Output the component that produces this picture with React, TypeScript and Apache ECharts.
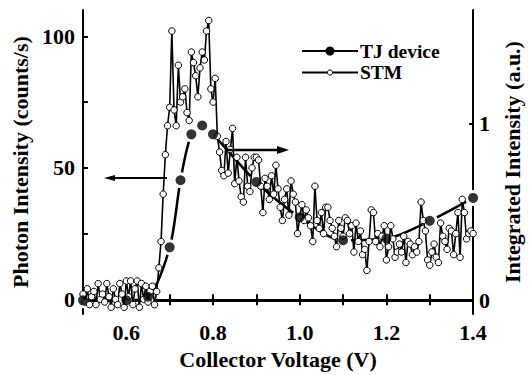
import React, { useEffect, useRef } from "react";
import * as echarts from "echarts";

// STM data: photon intensity (counts/s) sampled every 5 mV from 0.5 V
const stmStart = 0.5;
const stmStep = 0.005;
const stmCounts = [
  2, -1, 4, -2, 1, 3, -2, 6, 0, 2, -1, 6, 1, -3, 4, 0, -2, 6, 2, -3,
  7, 1, 7, -2, 4, 7, -3, 6, 0, 5, -1, 3, 5, -2, 3,
  12, 22, 40, 55, 66, 73, 102, 72, 66, 89, 75, 77, 80, 71, 68, 94, 90, 85, 77, 88,
  94, 91, 102, 106, 80, 75, 84, 62, 56, 49, 47, 60, 48, 57, 65, 44, 54, 45, 39, 37,
  54, 43, 41, 50, 54,
  54, 53, 43, 33, 46, 43, 38, 47, 40, 51,
  42, 35, 30, 38, 42, 32, 45, 40, 37, 25,
  31, 36, 30, 34, 31, 28, 22, 43, 30, 27,
  33, 25, 35, 35, 30, 27, 24, 20, 30, 27,
  24, 31, 30, 25, 28, 18, 29, 22, 26, 17,
  19, 11, 22, 34, 33, 22, 25, 20, 24, 28,
  15, 20, 28, 23, 16, 18, 21, 18, 24, 14,
  22, 21, 17, 20, 18, 22, 37, 30, 26, 15,
  13, 18, 21, 16, 14, 29, 24, 22, 19, 27,
  26, 17, 25, 33, 16, 38, 33, 23, 25, 26,
  25,
];

// TJ device: integrated intensity (a.u.)
const tjVoltage = [0.5, 0.6, 0.65, 0.7, 0.725, 0.75, 0.775, 0.8, 0.9, 1.0, 1.1, 1.2, 1.3, 1.4];
const tjIntensity = [0, 0, 0.02, 0.3, 0.68, 0.94, 0.99, 0.94, 0.67, 0.47, 0.34, 0.35, 0.45, 0.58];

// Axis ticks and labels
const xLabelValues = [0.6, 0.8, 1.0, 1.2, 1.4];
const xTickValues = [0.5, 0.6, 0.7, 0.8, 0.9, 1.0, 1.1, 1.2, 1.3, 1.4];
const leftLabelValues = [0, 50, 100];
const leftTickValues = [0, 25, 50, 75, 100];
const rightLabelValues = [0, 1];

const FONT = '"Liberation Serif", "Times New Roman", serif';
const FS = 22;
const LEGEND_FS = 19.5;

export default function App() {
  const ref = useRef<HTMLDivElement>(null);

  useEffect(() => {
    if (!ref.current) return;
    const chart = echarts.init(ref.current, null, { renderer: "svg" });

    const stmData = stmCounts.map((v, i) => [+(stmStart + i * stmStep).toFixed(3), v]);
    const tjData = tjVoltage.map((v, i) => [v, tjIntensity[i]]);

    const axisLine = { show: true, lineStyle: { color: "#000", width: 2 } };
    const labelStyle = {
      color: "#000",
      fontSize: FS,
      fontWeight: "bold" as const,
      fontFamily: FONT,
    };
    const nameStyle = {
      color: "#000",
      fontSize: FS,
      fontWeight: "bold" as const,
      fontFamily: FONT,
    };

    const option: any = {
      animation: false,
      backgroundColor: "#fff",
      grid: { left: 83, right: 46, top: 10, bottom: 55, containLabel: false },
      xAxis: [
        {
          type: "value",
          position: "bottom",
          min: 0.5,
          max: 1.4,
          axisLine,
          splitLine: { show: false },
          axisTick: {
            show: true,
            inside: true,
            length: 5,
            customValues: xTickValues,
            lineStyle: { color: "#000", width: 2 },
          },
          axisLabel: {
            ...labelStyle,
            margin: 7,
            customValues: xLabelValues,
            formatter: (v: number) => v.toFixed(1),
          },
          name: "Collector Voltage (V)",
          nameLocation: "middle",
          nameGap: 27,
          nameTextStyle: nameStyle,
        },
        {
          type: "value",
          position: "top",
          min: 0.5,
          max: 1.4,
          axisLine,
          splitLine: { show: false },
          axisTick: {
            show: true,
            inside: true,
            length: 5,
            customValues: xTickValues,
            lineStyle: { color: "#000", width: 2 },
          },
          axisLabel: { show: false },
        },
      ],
      yAxis: [
        {
          type: "value",
          position: "left",
          min: -5.6,
          max: 110,
          axisLine,
          splitLine: { show: false },
          axisTick: {
            show: true,
            inside: true,
            length: 5,
            customValues: leftTickValues,
            lineStyle: { color: "#000", width: 2 },
          },
          axisLabel: {
            ...labelStyle,
            margin: 8,
            customValues: leftLabelValues,
            formatter: (v: number) => String(v),
          },
          name: "Photon Intensity (counts/s)",
          nameLocation: "middle",
          nameRotate: 90,
          nameGap: 37,
          nameTextStyle: nameStyle,
        },
        {
          type: "value",
          position: "right",
          min: -0.078,
          max: 1.644,
          axisLine,
          splitLine: { show: false },
          axisTick: {
            show: true,
            inside: true,
            length: 4,
            customValues: rightLabelValues,
            lineStyle: { color: "#000", width: 2 },
          },
          axisLabel: {
            ...labelStyle,
            margin: 6,
            customValues: rightLabelValues,
            formatter: (v: number) => String(v),
          },
          name: "Integrated Intensity (a.u.)",
          nameLocation: "middle",
          nameRotate: 90,
          nameGap: 21,
          nameTextStyle: nameStyle,
        },
      ],
      series: [
        {
          name: "TJ line",
          type: "line",
          xAxisIndex: 0,
          yAxisIndex: 1,
          data: tjData,
          smooth: 0.3,
          symbol: "circle",
          symbolSize: 16,
          itemStyle: { color: "#fff" },
          lineStyle: { color: "#000", width: 2.5 },
          z: 1,
          silent: true,
        },
        {
          name: "STM",
          type: "line",
          xAxisIndex: 0,
          yAxisIndex: 0,
          data: stmData,
          symbol: "circle",
          symbolSize: 6.5,
          showAllSymbol: true,
          itemStyle: { color: "#fff", borderColor: "#000", borderWidth: 1 },
          lineStyle: { color: "#000", width: 1.6 },
          z: 2,
          silent: true,
        },
        {
          name: "TJ device",
          type: "scatter",
          xAxisIndex: 0,
          yAxisIndex: 1,
          data: tjData,
          symbol: "circle",
          symbolSize: 10,
          itemStyle: { color: "#000" },
          z: 3,
          silent: true,
        },
      ],
      graphic: [
        // left arrow (STM -> left axis)
        { type: "line", shape: { x1: 167, y1: 178, x2: 112, y2: 178 }, style: { stroke: "#000", lineWidth: 2 }, z: 10 },
        { type: "polygon", shape: { points: [[104, 178], [115, 175], [115, 181]] }, style: { fill: "#000" }, z: 10 },
        // right arrow (TJ -> right axis)
        { type: "line", shape: { x1: 227, y1: 150, x2: 280, y2: 150 }, style: { stroke: "#000", lineWidth: 2.5 }, z: 10 },
        { type: "polygon", shape: { points: [[289, 150], [277, 146], [277, 154]] }, style: { fill: "#000" }, z: 10 },
        // legend
        { type: "line", shape: { x1: 302, y1: 51, x2: 358, y2: 51 }, style: { stroke: "#000", lineWidth: 2 }, z: 10 },
        { type: "circle", shape: { cx: 330, cy: 51, r: 4.5 }, style: { fill: "#000" }, z: 11 },
        {
          type: "text",
          x: 360,
          y: 51,
          style: {
            text: "TJ device",
            fill: "#000",
            font: `bold ${LEGEND_FS}px ${FONT}`,
            verticalAlign: "middle",
            align: "left",
          },
          z: 10,
        },
        { type: "line", shape: { x1: 302, y1: 72.5, x2: 358, y2: 72.5 }, style: { stroke: "#000", lineWidth: 2 }, z: 10 },
        { type: "circle", shape: { cx: 330, cy: 72.5, r: 2.6 }, style: { fill: "#fff", stroke: "#000", lineWidth: 1 }, z: 11 },
        {
          type: "text",
          x: 360,
          y: 72.5,
          style: {
            text: "STM",
            fill: "#000",
            font: `bold ${LEGEND_FS}px ${FONT}`,
            verticalAlign: "middle",
            align: "left",
          },
          z: 10,
        },
      ],
    };

    chart.setOption(option);
    return () => chart.dispose();
  }, []);

  return (
    <div
      ref={ref}
      style={{ position: "absolute", left: 0, top: 0, width: 531, height: 375, background: "#fff" }}
    />
  );
}
